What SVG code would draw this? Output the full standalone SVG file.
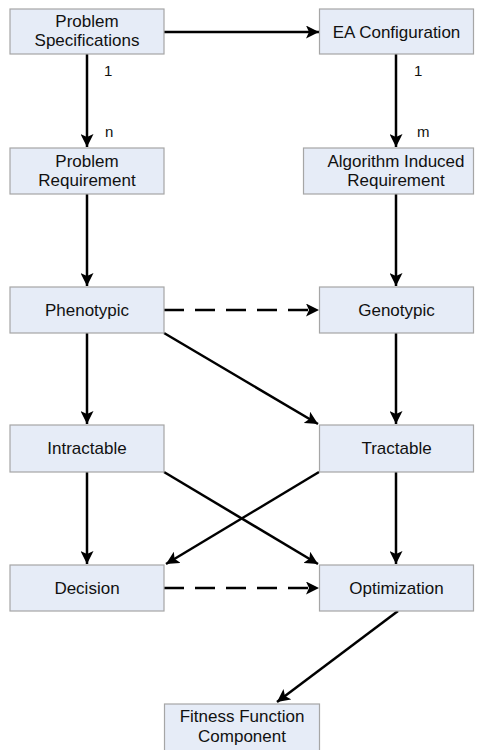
<svg xmlns="http://www.w3.org/2000/svg" width="484" height="750" viewBox="0 0 484 750">
<defs>
<style>
.box{fill:#E6ECF7;stroke:#A6A6A6;stroke-width:1.2}
.t{font-family:"Liberation Sans",Arial,sans-serif;font-size:17px;fill:#111;text-anchor:middle}
.lbl{font-family:"Liberation Sans",Arial,sans-serif;font-size:15px;fill:#111}
.c{stroke:#000;stroke-width:2.5;fill:none;marker-end:url(#ah)}
.d{stroke-dasharray:20 11}
</style>
<marker id="ah" markerWidth="14" markerHeight="13" refX="13" refY="6.5" orient="auto" markerUnits="userSpaceOnUse">
<path d="M0,0 L13,6.5 L0,13 L3,6.5 z" fill="#000"/>
</marker>
</defs>
<rect width="484" height="750" fill="#fff"/>
<g id="connectors">
<line class="c" x1="164" y1="32" x2="319" y2="32"/>
<line class="c" x1="87" y1="54" x2="87" y2="147"/>
<line class="c" x1="396" y1="54" x2="396" y2="147"/>
<line class="c" x1="87" y1="194" x2="87" y2="286"/>
<line class="c" x1="396" y1="194" x2="396" y2="286"/>
<line class="c d" x1="164" y1="310" x2="319" y2="310"/>
<line class="c" x1="87" y1="333" x2="87" y2="424"/>
<line class="c" x1="396" y1="333" x2="396" y2="424"/>
<line class="c" x1="164" y1="333" x2="318" y2="424"/>
<line class="c" x1="87" y1="472" x2="87" y2="564"/>
<line class="c" x1="396" y1="472" x2="396" y2="564"/>
<line class="c" x1="164" y1="472" x2="318" y2="564"/>
<line class="c" x1="319" y1="472" x2="166" y2="564"/>
<line class="c d" x1="164" y1="588" x2="319" y2="588"/>
<line class="c" x1="398" y1="611" x2="277" y2="702"/>
</g>
<g id="labels">
<text class="lbl" x="104" y="76">1</text>
<text class="lbl" x="105" y="137">n</text>
<text class="lbl" x="414" y="76">1</text>
<text class="lbl" x="417" y="137">m</text>
</g>
<g id="n1"><rect class="box" x="10" y="9" width="154" height="45"/><text class="t" x="87" y="27">Problem</text><text class="t" x="87" y="46">Specifications</text></g>
<g id="n2"><rect class="box" x="319.5" y="9" width="154" height="45"/><text class="t" x="396.5" y="38">EA Configuration</text></g>
<g id="n3"><rect class="box" x="10" y="148" width="154" height="46"/><text class="t" x="87" y="167">Problem</text><text class="t" x="87" y="186">Requirement</text></g>
<g id="n4"><rect class="box" x="303.5" y="148" width="170" height="46"/><text class="t" x="396" y="167">Algorithm Induced</text><text class="t" x="396" y="186">Requirement</text></g>
<g id="n5"><rect class="box" x="10" y="287" width="154" height="46"/><text class="t" x="87" y="316">Phenotypic</text></g>
<g id="n6"><rect class="box" x="319.5" y="287" width="154" height="46"/><text class="t" x="396.5" y="316">Genotypic</text></g>
<g id="n7"><rect class="box" x="10" y="425" width="154" height="47"/><text class="t" x="87" y="454">Intractable</text></g>
<g id="n8"><rect class="box" x="319.5" y="425" width="154" height="47"/><text class="t" x="396.5" y="454">Tractable</text></g>
<g id="n9"><rect class="box" x="10" y="565" width="154" height="46"/><text class="t" x="87" y="594">Decision</text></g>
<g id="n10"><rect class="box" x="319.5" y="565" width="154" height="46"/><text class="t" x="396.5" y="594">Optimization</text></g>
<g id="n11"><rect class="box" x="164.5" y="704" width="155" height="50"/><text class="t" x="242" y="722">Fitness Function</text><text class="t" x="242" y="742">Component</text></g>
</svg>
